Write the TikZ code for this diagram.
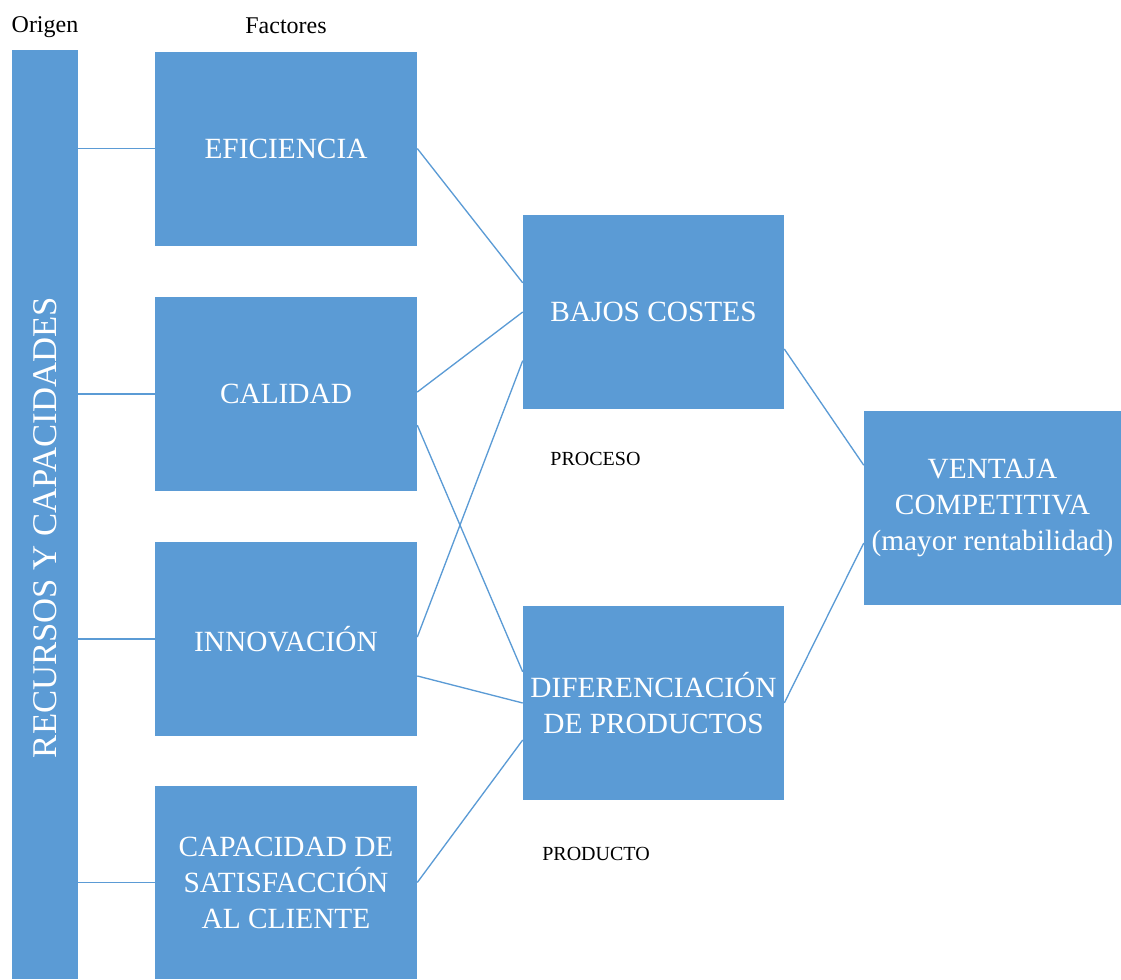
\documentclass[tikz,border=0pt]{standalone}
\usepackage{fontspec}
\setmainfont{Liberation Serif}
\usetikzlibrary{calc}

\definecolor{boxblue}{HTML}{5B9BD5}
\tikzset{
 box/.style={fill=boxblue, text=white, align=center, inner sep=0pt,
  minimum width=262*0.75pt, minimum height=194*0.75pt,
  font=\fontsize{22}{27}\selectfont},
 link/.style={draw=boxblue, line width=1pt},
 head/.style={anchor=base, font=\fontsize{18}{20}\selectfont},
 tag/.style={anchor=base, font=\fontsize{15}{18}\selectfont}
}

\begin{document}
\begin{tikzpicture}[x=0.75pt,y=-0.75pt]

\newcommand{\wire}[4] % [from][pos][to][pos]
{
 \draw[link] ($(#1.north east)!#2!(#1.south east)$)
   -- ($(#3.north west)!#4!(#3.south west)$);
}

\useasboundingbox (0,0) rectangle (1121,979);

% origen
\node[box, rotate=90, minimum width=929*0.75pt, minimum height=66*0.75pt,
 font=\fontsize{26}{30}\selectfont] (bar) at (45,514.5)
 {RECURSOS Y CAPACIDADES\hspace*{19.5pt}};
\node[head] (origen) at (45,32) {Origen};
\node[head] (factores) at (286,33) {Factores};

% factores
\node[box] (efic) at (286,148.5) {EFICIENCIA};
\node[box] (cal) at (286,394) {CALIDAD};
\node[box] (innov) at (286,639) {INNOVACIÓN};
\node[box, minimum height=193*0.75pt] (capac) at (286,882.5)
 {CAPACIDAD DE\\SATISFACCIÓN\\AL CLIENTE};

\node[box, minimum width=261*0.75pt] (bajos) at (653.5,312) {BAJOS COSTES};
\node[box, minimum width=261*0.75pt] (dif) at (653.5,703)
 {DIFERENCIACIÓN\\DE PRODUCTOS};
\node[box, minimum width=257*0.75pt] (venta) at (992.5,508)
 {VENTAJA\\COMPETITIVA\\(mayor rentabilidad)};

\node[tag] (proceso) at (595.5,465) {PROCESO};
\node[tag] (producto) at (596,860) {PRODUCTO};

\foreach \f in {efic,cal,innov,capac}
 \draw[link] (bar.south |- \f.west) -- (\f.west);

\wire{efic}{0.5}{bajos}{0.35}
\wire{cal}{0.49}{bajos}{0.5}
\wire{cal}{0.66}{dif}{0.34}
\wire{innov}{0.49}{bajos}{0.75}
\wire{innov}{0.69}{dif}{0.5}
\wire{capac}{0.5}{dif}{0.69}
\wire{bajos}{0.69}{venta}{0.28}
\wire{dif}{0.5}{venta}{0.68}

\end{tikzpicture}
\end{document}
